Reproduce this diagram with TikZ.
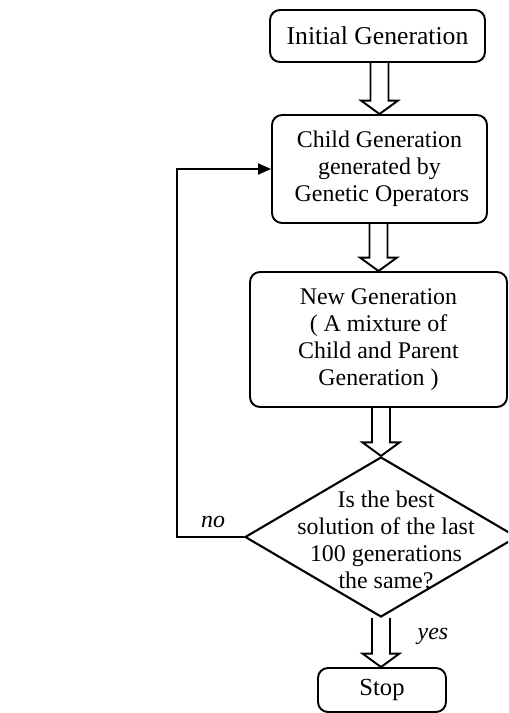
\documentclass[tikz,border=0pt]{standalone}
\usepackage{fontspec}
\setmainfont{Liberation Serif}
\usetikzlibrary{shapes.geometric,arrows.meta,calc}

\tikzset{
  box/.style={draw, line width=1.1pt, rounded corners=0.2cm, align=center, inner sep=0pt},
  decision/.style={draw, diamond, line width=1.2pt, minimum width=5.44cm, minimum height=3.2cm, inner sep=0pt},
  fatarrow/.style={draw, line width=1.1pt, line join=miter},
  feedback/.style={line width=1.1pt, -{Triangle[length=0.26cm,width=0.22cm]}}
}

% hollow block arrow from #1 (start, open end) down to #2 (tip)
\newcommand{\blockarrow}[2]{%
  \draw[fatarrow] ($(#1)+(-0.18,0)$) -- ($(#2)+(-0.18,0.27)$) -- ($(#2)+(-0.37,0.27)$)
    -- (#2) -- ($(#2)+(0.37,0.27)$) -- ($(#2)+(0.18,0.27)$) -- ($(#1)+(0.18,0)$);}

\begin{document}
\begin{tikzpicture}[font=\fontsize{13.6pt}{15.4pt}\selectfont]
    \clip (0,0) rectangle (10.16,-14.26);

    \node[box, minimum width=4.3cm, minimum height=1.04cm,
      font=\fontsize{14.6pt}{16pt}\selectfont] (init) at (7.55,-0.72)
    {Initial Generation};
    \node[box, minimum width=4.3cm, minimum height=2.16cm] (child) at (7.59,-3.38)
    {Child Generation\\ generated by\\ \hspace{0.1cm}Genetic Operators};
    \node[box, minimum width=5.14cm, minimum height=2.7cm] (newgen) at (7.57,-6.79)
    {New Generation\\ ( A mixture of\\ Child and Parent\\ Generation )};
    \node[decision] (check) at (7.62,-10.74) {};
    \node[align=center] (checktext) at (7.72,-10.8)
    {Is the best\\ solution of the last\\ 100 generations\\ the same?};
    \node[box, minimum width=2.56cm, minimum height=0.88cm,
      font=\fontsize{14pt}{16pt}\selectfont] (stop) at (7.64,-13.8)
    {Stop};

    \blockarrow{init.south -| child.north}{child.north}
    \blockarrow{child.south -| newgen.north}{newgen.north}
    \blockarrow{newgen.south -| check.north}{check.north}
    \blockarrow{check.south}{check.south |- stop.north}

    \coordinate (back) at (3.54,-10.74);
    \draw[feedback] (check.west) -- (back) |- (child.west);

    \node[font=\fontsize{13.6pt}{15.4pt}\itshape] (nolabel) at (4.26,-10.44) {no};
    \node[font=\fontsize{13.6pt}{15.4pt}\itshape] (yeslabel) at (8.66,-12.72) {yes};
\end{tikzpicture}
\end{document}
